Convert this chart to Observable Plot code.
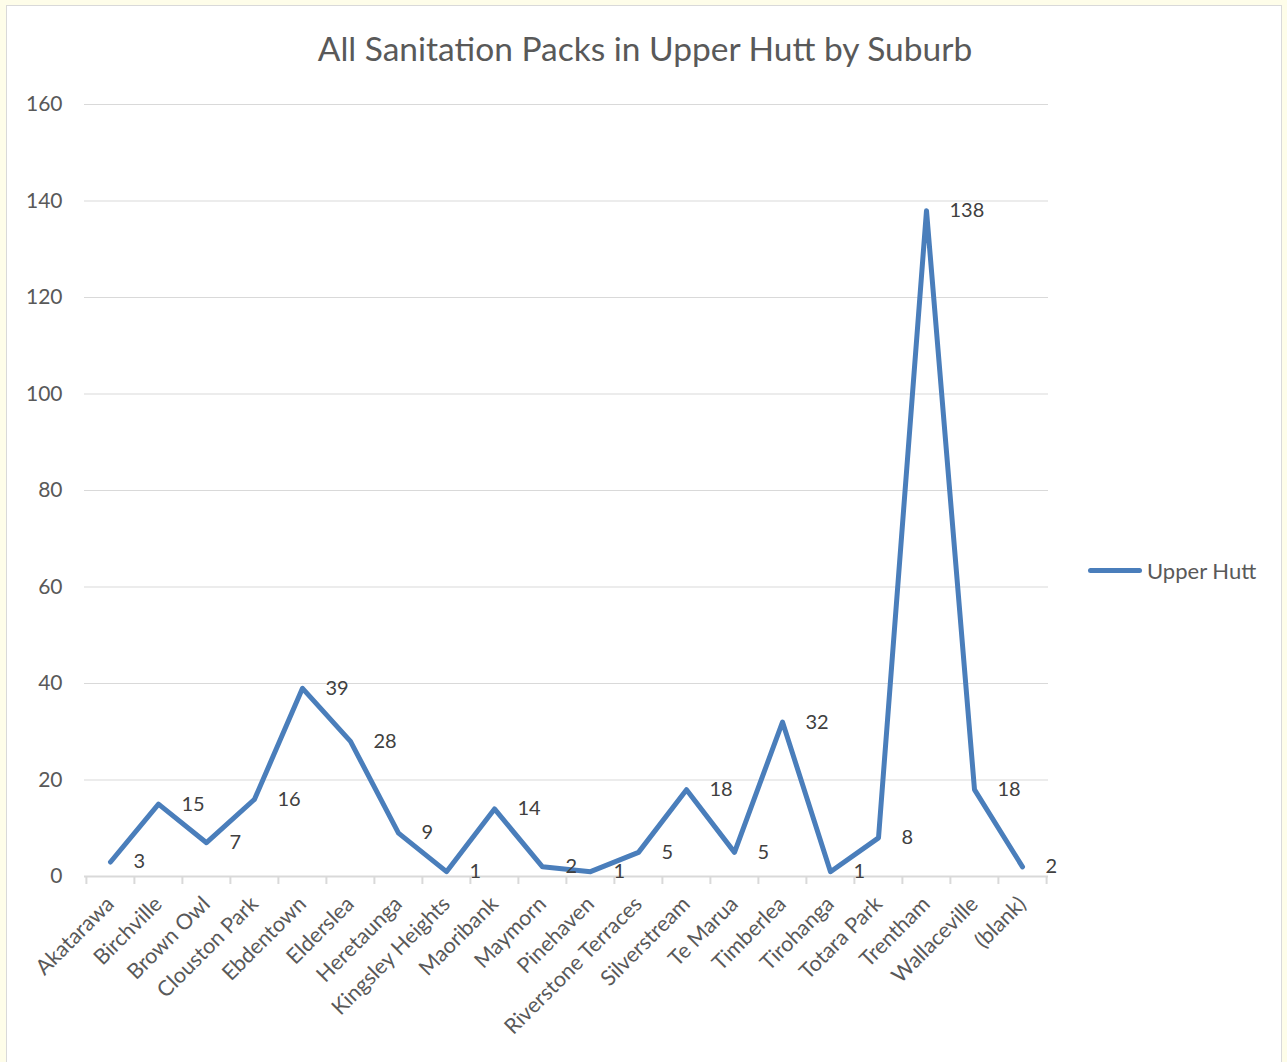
<!DOCTYPE html>
<html>
<head>
<meta charset="utf-8">
<script src="https://cdn.jsdelivr.net/npm/d3@7"></script>
<script src="https://cdn.jsdelivr.net/npm/@observablehq/plot@0.6"></script>
<style>
  html, body { margin: 0; padding: 0; background: #fefde9; }
  #frame { position: relative; width: 1287px; height: 1062px; background: #fefde9; overflow: hidden; }
  #inner { position: absolute; left: 6px; top: 5px; width: 1274px; height: 1070px; background: #fff; border: 1px solid #d9d9d9; }
  #title { position: absolute; left: 0; width: 1290px; top: 28px; text-align: center; font-family: Lato, "Open Sans", sans-serif; font-size: 33.5px; color: #595959; }
  #chart { position: absolute; left: 0; top: 0; }
  #legend { position: absolute; left: 1088px; top: 557px; display: flex; align-items: center; font-family: Lato, "Open Sans", sans-serif; font-size: 22px; color: #595959; }
  #legend .sw { width: 54px; height: 5px; border-radius: 3px; background: #4a7ebb; margin-right: 5px; }
</style>
</head>
<body>
<div id="frame">
  <div id="inner"></div>
  <div id="title">All Sanitation Packs in Upper Hutt by Suburb</div>
  <div id="chart"></div>
  <div id="legend"><div class="sw"></div><span>Upper Hutt</span></div>
</div>
<script>
const suburbs = ["Akatarawa","Birchville","Brown Owl","Clouston Park","Ebdentown","Elderslea","Heretaunga","Kingsley Heights","Maoribank","Maymorn","Pinehaven","Riverstone Terraces","Silverstream","Te Marua","Timberlea","Tirohanga","Totara Park","Trentham","Wallaceville","(blank)"];
const packs = [3,15,7,16,39,28,9,1,14,2,1,5,18,5,32,1,8,138,18,2];
const yTicks = [0,20,40,60,80,100,120,140,160];

const data = suburbs.map((s, i) => ({suburb: s, value: packs[i]}));

const W = 1287, H = 1062, mL = 84, mR = 239, mT = 104, mB = 186;
const step = (W - mL - mR) / suburbs.length;
const grid = "#d9d9d9";
const blue = "#4a7ebb";

const chart = Plot.plot({
  width: W, height: H,
  marginLeft: mL, marginRight: mR, marginTop: mT, marginBottom: mB,
  style: {background: "transparent", fontFamily: "Lato, 'Open Sans', sans-serif", fontSize: "21px", color: "#595959", overflow: "visible"},
  x: {type: "point", domain: suburbs, padding: 0.5},
  y: {domain: [0, 160]},
  marks: [
    Plot.ruleY(yTicks.slice(1), {stroke: grid, strokeWidth: 1.2}),
    Plot.ruleY([0], {stroke: grid, strokeWidth: 2}),
    Plot.ruleX(suburbs, {x: d => d, y1: 0, y2: 0, insetBottom: -8, dx: -step / 2, stroke: grid, strokeWidth: 2}),
    Plot.ruleX(suburbs.slice(-1), {x: d => d, y1: 0, y2: 0, insetBottom: -8, dx: step / 2, stroke: grid, strokeWidth: 2}),
    Plot.axisY({ticks: yTicks, tickSize: 0, tickPadding: 22, label: null, fill: "#595959", fontSize: 21}),
    Plot.axisX({tickSize: 0, tickPadding: 24, tickRotate: -45, label: null, fill: "#595959", fontSize: 21.5}),
    Plot.line(data, {x: "suburb", y: "value", stroke: blue, strokeWidth: 5, strokeLinejoin: "round", strokeLinecap: "round"}),
    Plot.text(data, {x: "suburb", y: "value", text: d => String(d.value), textAnchor: "start", dx: 23, fill: "#404040", fontSize: 20})
  ]
});
document.getElementById("chart").appendChild(chart);
</script>
</body>
</html>
